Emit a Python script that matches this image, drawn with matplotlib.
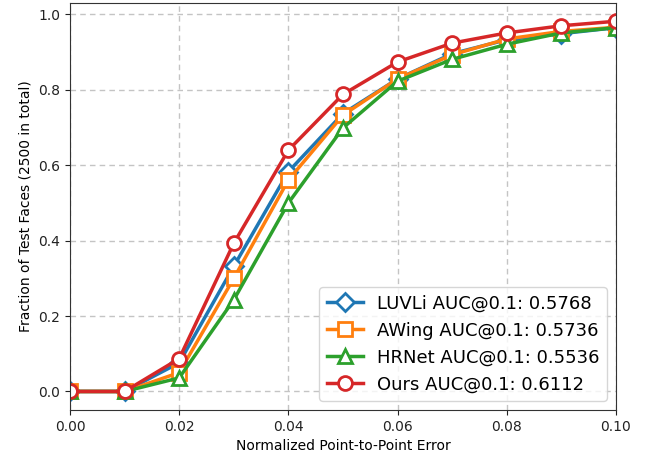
import numpy as np
import matplotlib
matplotlib.use("Agg")
import matplotlib.pyplot as plt

# NME thresholds and CED values
thresholds = [0.00, 0.01, 0.02, 0.03, 0.04, 0.05, 0.06, 0.07, 0.08, 0.09, 0.10]
luvli = [0.0, 0.0, 0.076, 0.332, 0.583, 0.737, 0.829, 0.896, 0.933, 0.949, 0.965]
awing = [0.0, 0.0, 0.050, 0.300, 0.561, 0.733, 0.829, 0.893, 0.935, 0.955, 0.966]
hrnet = [0.0, 0.0, 0.036, 0.243, 0.500, 0.699, 0.823, 0.881, 0.921, 0.951, 0.965]
ours = [0.0, 0.0, 0.087, 0.393, 0.640, 0.788, 0.874, 0.924, 0.951, 0.970, 0.982]

labels = ["LUVLi AUC@0.1: 0.5768", "AWing AUC@0.1: 0.5736",
          "HRNet AUC@0.1: 0.5536", "Ours AUC@0.1: 0.6112"]
series = [luvli, awing, hrnet, ours]
markers = ["D", "s", "^", "o"]
colors = ["#1f77b4", "#ff7f0e", "#2ca02c", "#d62728"]

fig = plt.figure(figsize=(6.45, 4.62), dpi=100)
ax = fig.add_axes([0.1085, 0.1126, 0.8465, 0.8815])

for vals, lab, mk, c in zip(series, labels, markers, colors):
    ax.plot(thresholds, vals, label=lab, color=c, marker=mk,
            markersize=10 if mk != "D" else 9, markerfacecolor="white",
            markeredgewidth=2, linewidth=2.5)

ax.set_xlim(0, 0.1)
ax.set_xticks(np.arange(0, 0.101, 0.02))
ax.set_yticks(np.arange(0, 1.01, 0.2))
ax.tick_params(labelsize=10, colors="#222222")
ax.set_xlabel("Normalized Point-to-Point Error", fontsize=10)
ax.set_ylabel("Fraction of Test Faces (2500 in total)", fontsize=10)
ax.grid(True, linestyle=(0, (4, 3)), color="#c4c4c4", linewidth=1)
for s in ax.spines.values():
    s.set_color("#333333")
ax.legend(loc="lower right", fontsize=13, handlelength=2.0, borderpad=0.4,
          labelspacing=0.5)

fig.savefig("out.png", dpi=100)
